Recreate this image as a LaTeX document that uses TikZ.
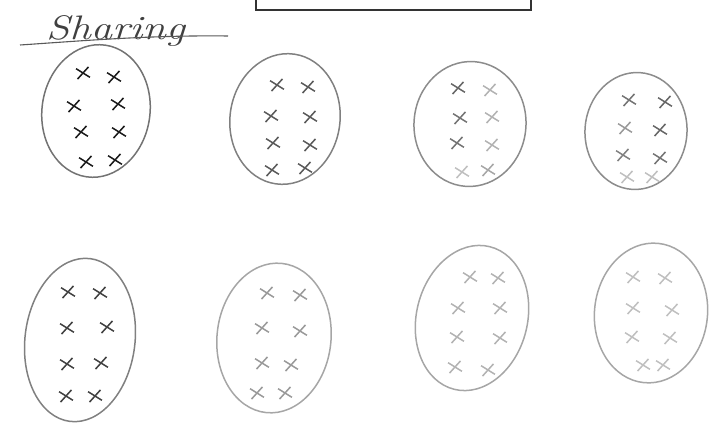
\documentclass[tikz,border=0pt]{standalone}
\usetikzlibrary{shapes.geometric,shapes.misc}
\begin{document}
\begin{tikzpicture}[x=1pt,y=-1pt,
  oval/.style={draw=#1,ellipse,line width=1.5pt,inner sep=0pt},
  xm/.style={draw=#1,cross out,line width=1.5pt,minimum width=11pt,minimum height=9pt,inner sep=0pt,rotate=8},
  titlebox/.style={draw=black!80,line width=2pt}]
\useasboundingbox (0,0) rectangle (720,430);
% top box
\draw[titlebox] (256,-6) rectangle (531,10);
% title
\node[anchor=base west,text=black!75,font=\fontsize{34}{36}\selectfont\itshape,inner sep=0pt] (title) at (46,40) {\scalebox{1.25}[1]{Sharing}};
\coordinate (ulA) at (20,45);
\coordinate (ulB) at (228,36);
\draw[black!65,line width=1.1pt] (ulA) .. controls (80,41) and (150,35) .. (ulB);
% ellipses row 1
\node[oval=black!55,minimum width=108pt,minimum height=133pt,rotate=-8] (e1) at (96,111) {};
\node[oval=black!50,minimum width=110pt,minimum height=131pt,rotate=-8] (e2) at (285,119) {};
\node[oval=black!45,minimum width=112pt,minimum height=125pt,rotate=-4] (e3) at (470,124) {};
\node[oval=black!45,minimum width=102pt,minimum height=117pt,rotate=-4] (e4) at (636,131) {};
% ellipses row 2
\node[oval=black!50,minimum width=110pt,minimum height=164pt,rotate=-7] (e5) at (80,340) {};
\node[oval=black!35,minimum width=114pt,minimum height=150pt,rotate=-6] (e6) at (274,338) {};
\node[oval=black!35,minimum width=111pt,minimum height=147pt,rotate=-14] (e7) at (472,318) {};
\node[oval=black!35,minimum width=113pt,minimum height=140pt,rotate=-6] (e8) at (651,313) {};
% crosses
\foreach \n/\x/\y in {e1a/83/73,e1b/114/77,e1c/74/106,e1d/118/104,e1e/81/132,e1f/119/132,e1g/86/162,e1h/115/160}
  \node[xm=black!90] (\n) at (\x,\y) {};
\foreach \n/\x/\y in {e2a/277/85,e2b/308/87,e2c/271/116,e2d/310/117,e2e/273/143,e2f/310/145,e2g/272/170,e2h/305/168}
  \node[xm=black!65] (\n) at (\x,\y) {};
\foreach \n/\x/\y/\c in {e3a/458/88/60,e3b/490/90/30,e3c/460/118/55,e3d/492/117/30,e3e/457/143/55,e3f/492/145/30,e3g/462/172/25,e3h/488/170/35}
  \node[xm=black!\c] (\n) at (\x,\y) {};
\foreach \n/\x/\y/\c in {e4a/629/100/55,e4b/665/102/60,e4c/625/128/40,e4d/660/130/60,e4e/623/155/50,e4f/660/158/55,e4g/627/177/25,e4h/652/177/25}
  \node[xm=black!\c] (\n) at (\x,\y) {};
\foreach \n/\x/\y in {e5a/68/292,e5b/100/293,e5c/67/328,e5d/107/327,e5e/67/364,e5f/101/363,e5g/66/396,e5h/95/396}
  \node[xm=black!75] (\n) at (\x,\y) {};
\foreach \n/\x/\y in {e6a/267/293,e6b/300/295,e6c/262/328,e6d/300/331,e6e/262/363,e6f/291/365,e6g/257/393,e6h/285/393}
  \node[xm=black!40] (\n) at (\x,\y) {};
\foreach \n/\x/\y in {e7a/470/277,e7b/498/278,e7c/458/308,e7d/500/308,e7e/457/337,e7f/500/338,e7g/455/367,e7h/488/370}
  \node[xm=black!30] (\n) at (\x,\y) {};
\foreach \n/\x/\y in {e8a/633/277,e8b/665/278,e8c/633/308,e8d/672/310,e8e/632/337,e8f/670/338,e8g/643/365,e8h/663/365}
  \node[xm=black!25] (\n) at (\x,\y) {};
\end{tikzpicture}
\end{document}
